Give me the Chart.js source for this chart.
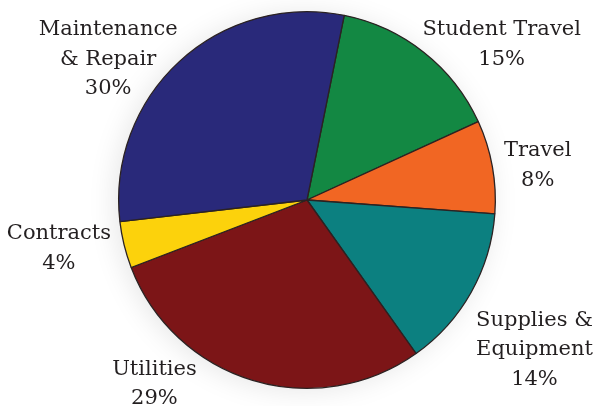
<!DOCTYPE html>
<html>
<head>
<meta charset="utf-8">
<title>Budget breakdown</title>
<script src="https://cdn.jsdelivr.net/npm/chart.js@4/dist/chart.umd.min.js"></script>
<style>
  html, body { margin: 0; padding: 0; background: #fff; }
  #pie { display: block; }
</style>
</head>
<body>
<canvas id="pie" width="597" height="406"></canvas>
<script>
// slices, clockwise from the top
const categories = [
  ['Student Travel'],
  ['Travel'],
  ['Supplies &', 'Equipment'],
  ['Utilities'],
  ['Contracts'],
  ['Maintenance', '& Repair']
];
const shares = [15, 8, 14, 29, 4, 30];
const sliceColors = ['#138843', '#f16623', '#0c8080', '#7c1517', '#fcd20c', '#29297a'];

// where each label block sits: angle (deg, clockwise from top) and distance in radii
const labelSpots = [
  { angle: 51, dist: 1.33 },
  { angle: 81, dist: 1.24 },
  { angle: 123, dist: 1.44 },
  { angle: 220, dist: 1.26 },
  { angle: 259.4, dist: 1.34 },
  { angle: 305.7, dist: 1.30 }
];

const sliceLabels = {
  id: 'sliceLabels',
  beforeDatasetsDraw(chart) {
    // soft haze behind the pie
    const arc = chart.getDatasetMeta(0).data[0];
    const ctx = chart.ctx;
    ctx.save();
    ctx.shadowColor = 'rgba(0,0,0,0.10)';
    ctx.shadowBlur = 28;
    ctx.shadowOffsetX = -4;
    ctx.shadowOffsetY = 2;
    ctx.fillStyle = '#fff';
    ctx.beginPath();
    ctx.arc(arc.x, arc.y, arc.outerRadius, 0, Math.PI * 2);
    ctx.fill();
    ctx.restore();
  },
  afterDatasetsDraw(chart) {
    const ctx = chart.ctx;
    const meta = chart.getDatasetMeta(0);
    const fontSize = 21;
    const lineH = 29.5;
    ctx.save();
    ctx.font = fontSize + 'px "DejaVu Serif"';
    ctx.fillStyle = '#231f20';
    ctx.textAlign = 'center';
    ctx.textBaseline = 'alphabetic';
    meta.data.forEach((arc, i) => {
      const spot = labelSpots[i];
      const a = spot.angle * Math.PI / 180;
      const cx = arc.x + Math.sin(a) * arc.outerRadius * spot.dist;
      const cy = arc.y - Math.cos(a) * arc.outerRadius * spot.dist;
      const lines = categories[i].concat([shares[i] + '%']);
      const first = cy - (lines.length - 1) * lineH / 2 + fontSize * 0.36;
      lines.forEach((t, k) => ctx.fillText(t, cx, first + k * lineH));
    });
    ctx.restore();
  }
};

new Chart(document.getElementById('pie'), {
  type: 'pie',
  data: {
    labels: categories,
    datasets: [{
      data: shares,
      backgroundColor: sliceColors,
      borderColor: '#2b2222',
      borderWidth: 1.3
    }]
  },
  options: {
    responsive: false,
    animation: false,
    rotation: 11.4,
    layout: { padding: { top: 11, bottom: 17, left: 17, right: 0 } },
    plugins: {
      legend: { display: false },
      tooltip: { enabled: false }
    }
  },
  plugins: [sliceLabels]
});
</script>
</body>
</html>
